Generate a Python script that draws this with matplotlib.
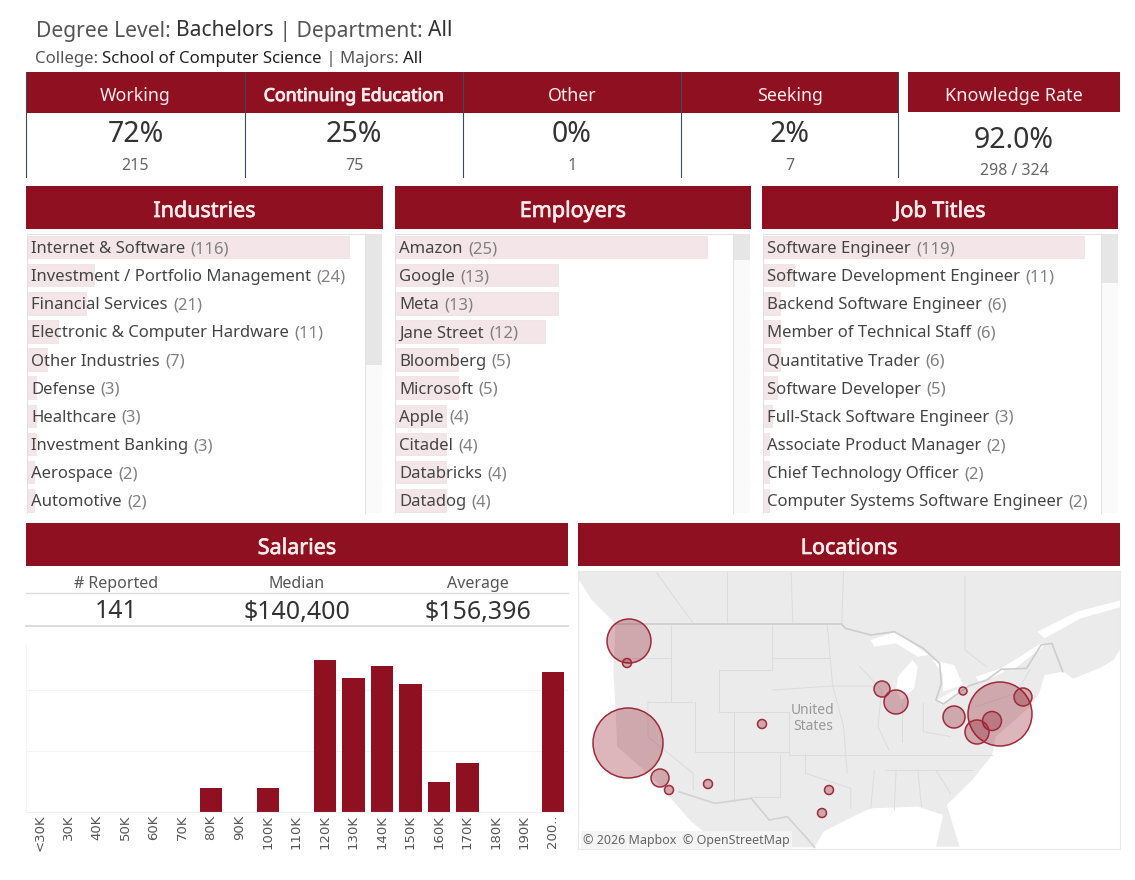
import numpy as np
from matplotlib import pyplot as plt
from matplotlib import patheffects as pe
from matplotlib.patches import Rectangle, Polygon

plt.rcParams['font.family'] = ['Noto Sans', 'DejaVu Sans']

RED = '#8f1020'
DARK = '#333333'
GREY = '#666666'
W, H = 1135, 880

kpi_names = ['Working', 'Continuing Education', 'Other', 'Seeking']
kpi_pct = ['72%', '25%', '0%', '2%']
kpi_count = ['215', '75', '1', '7']

industries = ['Internet & Software', 'Investment / Portfolio Management', 'Financial Services',
              'Electronic & Computer Hardware', 'Other Industries', 'Defense', 'Healthcare',
              'Investment Banking', 'Aerospace', 'Automotive']
industry_counts = [116, 24, 21, 11, 7, 3, 3, 3, 2, 2]

employers = ['Amazon', 'Google', 'Meta', 'Jane Street', 'Bloomberg', 'Microsoft', 'Apple',
             'Citadel', 'Databricks', 'Datadog']
employer_counts = [25, 13, 13, 12, 5, 5, 4, 4, 4, 4]

job_titles = ['Software Engineer', 'Software Development Engineer', 'Backend Software Engineer',
              'Member of Technical Staff', 'Quantitative Trader', 'Software Developer',
              'Full-Stack Software Engineer', 'Associate Product Manager',
              'Chief Technology Officer', 'Computer Systems Software Engineer']
job_counts = [119, 11, 6, 6, 6, 5, 3, 2, 2, 2]

salary_bins = ['<30K', '30K', '40K', '50K', '60K', '70K', '80K', '90K', '100K', '110K',
               '120K', '130K', '140K', '150K', '160K', '170K', '180K', '190K', '200..']
salary_counts = [0, 0, 0, 0, 0, 0, 4, 0, 4, 0, 25, 22, 24, 21, 5, 8, 0, 0, 23]

# bubbles in pixels
city_x = [628, 629, 627, 660, 669, 708, 762, 829, 822, 882, 896, 963, 954, 1000, 992, 977, 1023]
city_y = [743, 641, 663, 778, 790, 784, 724, 790, 813, 689, 702, 691, 717, 714, 721, 732, 697]
city_r = [35, 22, 4.5, 9, 4.5, 4.5, 4.5, 4.5, 4.5, 8, 12, 4, 11, 32, 9.5, 12, 9]

# map background, in zoom-crop coordinates (converted below)
land = [(22, 30), (1540, 30), (1540, 230), (1500, 300), (1400, 365), (1362, 335), (1310, 345),
        (1295, 400), (1270, 440), (1175, 530), (1165, 585), (1110, 660), (1040, 735), (1075, 860),
        (1010, 860), (1030, 765), (960, 740), (830, 745), (780, 770), (700, 815), (675, 862),
        (425, 862), (335, 785), (270, 705), (225, 650), (130, 560), (125, 430), (120, 340),
        (125, 190), (60, 120), (25, 60)]
lakes = [[(830, 240), (900, 215), (990, 285), (960, 290), (900, 250), (840, 260)],
         [(905, 350), (945, 300), (960, 320), (950, 385), (915, 420), (900, 390)],
         [(1000, 300), (1060, 315), (1085, 375), (1030, 395), (1028, 340)],
         [(1010, 420), (1090, 375), (1100, 385), (1025, 435)],
         [(1120, 350), (1190, 325), (1200, 335), (1130, 370)],
         [(1190, 325), (1300, 250), (1312, 255), (1220, 332)],
         [(1290, 215), (1400, 155), (1540, 115), (1540, 135), (1410, 175), (1310, 235)],
         [(1375, 362), (1460, 325), (1475, 335), (1400, 368)]]
border = [(125, 192), (750, 192), (760, 205), (830, 225), (895, 215), (975, 265), (1020, 310),
          (1025, 370), (1010, 420), (1030, 432), (1100, 378), (1150, 360), (1190, 328), (1260, 325),
          (1300, 255), (1330, 250), (1360, 335)]
south_border = [(300, 695), (400, 730), (500, 715), (550, 780), (600, 770), (650, 830), (675, 862)]
state_lines = [[(280, 195), (280, 425)], [(125, 295), (280, 295)], [(215, 425), (340, 425)],
               [(215, 425), (215, 530), (340, 640), (340, 690)], [(345, 425), (345, 575)],
               [(345, 575), (605, 575)], [(452, 455), (452, 725)], [(410, 330), (410, 455), (605, 455)],
               [(410, 330), (558, 330), (558, 195)], [(558, 295), (715, 295)], [(558, 390), (725, 378), (840, 378)],
               [(605, 455), (605, 585), (765, 585)], [(580, 585), (580, 712), (500, 712)],
               [(650, 585), (650, 640), (775, 685), (775, 745)], [(710, 195), (725, 378)],
               [(725, 378), (755, 500), (765, 640)], [(765, 585), (1165, 585)], [(800, 320), (860, 390), (850, 500), (880, 570)],
               [(915, 430), (915, 545)], [(975, 430), (975, 515), (1050, 530)], [(870, 630), (1110, 630)],
               [(900, 630), (895, 750)], [(960, 630), (970, 740)], [(1010, 630), (1050, 700)],
               [(840, 630), (830, 745)], [(1090, 50), (1090, 270), (1150, 320)], [(610, 30), (615, 190)], [(432, 30), (432, 190)],
               [(240, 40), (340, 190)], [(1120, 440), (1230, 400), (1270, 330)], [(755, 35), (750, 190)]]


def mx(pts):
    return [(570 + x / 2.76, 560 + y / 3) for x, y in pts]


def px_axes(fig, x0, y0, x1, y1, **kw):
    return fig.add_axes([x0 / W, 1 - y1 / H, (x1 - x0) / W, (y1 - y0) / H], **kw)


def spans(ax, x, y, parts, size):
    # text in two colours, one piece after the other
    r = fig.canvas.get_renderer()
    for s, c in parts:
        t = ax.text(x, y, s, color=c, fontsize=size, va='center', ha='left')
        x += t.get_window_extent(r).width


def faux_bold(t, c='#f7ecec', w=0.5):
    t.set_path_effects([pe.withStroke(linewidth=w, foreground=c)])


def header(ax, x0, x1, y0, y1, label, size=15.5, bold=True):
    ax.add_patch(Rectangle((x0, y0), x1 - x0, y1 - y0, color=RED, lw=0))
    t = ax.text((x0 + x1) / 2, (y0 + y1) / 2 + 4, label, color='#f7ecec', fontsize=size,
                ha='center', va='center')
    if bold:
        faux_bold(t)


def list_panel(x0, names, counts, max_px, thumb):
    # scrollbar on the right of a 354 px wide box
    bg.plot([x0, x0, x0 + 338], [513, 234, 234], color='#e2e2e2', lw=0.8)
    bg.plot([x0 + 338, x0 + 338], [234, 513], color='#e2e2e2', lw=0.8)
    bg.add_patch(Rectangle((x0 + 338, 234), 17, 279, fc='#fafafa', lw=0))
    bg.add_patch(Rectangle((x0 + 338, 234), 17, thumb, fc='#e6e6e6', lw=0))
    ax = px_axes(fig, x0 + 1, 234, x0 + 337, 513)
    ax.axis('off')
    pos = np.arange(len(names))
    ax.barh(pos, counts, height=0.8, color='#f4e6e8', edgecolor='#ecdfe1', lw=0.5)
    ax.set_xlim(0, max(counts) * 336 / max_px)
    ax.set_ylim(9.45, -0.46)
    for i, (n, c) in enumerate(zip(names, counts)):
        t = ax.annotate(n, (0, i), xytext=(2.5, -1.5), textcoords='offset points', fontsize=12, color='#444444',
                        va='center', ha='left')
        e = t.get_window_extent(fig.canvas.get_renderer())
        ax.annotate(f'({c})', (0, i), xytext=(2.5 + (e.width + 5) * 0.72, -1.5), textcoords='offset points',
                    fontsize=12, color='#808080', va='center', ha='left')


fig = plt.figure(figsize=(W / 100, H / 100), dpi=100)
bg = px_axes(fig, 0, 0, W, H)
bg.set_xlim(0, W)
bg.set_ylim(H, 0)
bg.axis('off')

spans(bg, 36, 31, [('Degree Level: ', '#555555'), ('Bachelors', DARK), (' | Department: ', '#555555'), ('All', DARK)], 15.2)
spans(bg, 35, 59, [('College: ', '#555555'), ('School of Computer Science', '#222222'), (' | Majors: ', '#555555'), ('All', '#222222')], 12.1)

# KPI strip
kpi_edges = [26, 245, 463, 681, 898]
bg.add_patch(Rectangle((26, 72), 872, 41, color=RED, lw=0))
for i, name in enumerate(kpi_names):
    cx = (kpi_edges[i] + kpi_edges[i + 1]) / 2
    t = bg.text(cx, 96, name, color='#f7ecec', fontsize=12.8, ha='center', va='center')
    if i == 1:
        faux_bold(t, w=0.7)
    bg.text(cx, 135, kpi_pct[i], color=DARK, fontsize=20.5, ha='center', va='center')
    bg.text(cx, 166, kpi_count[i], color=GREY, fontsize=11.5, ha='center', va='center')
for x in kpi_edges:
    bg.plot([x, x], [72, 177], color='#3d4a5c', lw=0.8)
header(bg, 908, 1120, 72, 112, 'Knowledge Rate', size=13, bold=False)
bg.text(1014, 140, '92.0%', color=DARK, fontsize=20.5, ha='center', va='center')
bg.text(1014, 171, '298 / 324', color=GREY, fontsize=11.5, ha='center', va='center')

header(bg, 26, 383, 186, 229, 'Industries')
header(bg, 395, 751, 186, 229, 'Employers')
header(bg, 762, 1118, 186, 229, 'Job Titles')
list_panel(27, industries, industry_counts, 321, 131)
list_panel(395, employers, employer_counts, 311, 26)
list_panel(763, job_titles, job_counts, 320, 49)

# salaries
header(bg, 26, 568, 523, 566, 'Salaries')
header(bg, 578, 1120, 523, 566, 'Locations')
for x, a, b in zip([116, 297, 478], ['# Reported', 'Median', 'Average'], ['141', '$140,400', '$156,396']):
    bg.text(x, 584, a, color='#555555', fontsize=11.5, ha='center', va='center')
    bg.text(x, 612, b, color=DARK, fontsize=18, ha='center', va='center')
bg.plot([26, 568], [593, 593], color='#dddddd', lw=1)
bg.plot([26, 568], [626, 626], color='#dddddd', lw=1.4)

ax = px_axes(fig, 26, 645, 568, 812)
ax.bar(np.arange(len(salary_bins)), salary_counts, width=0.78, color=RED)
ax.set_xlim(-0.49, 18.53)
ax.set_ylim(0, 27.4)
ax.set_yticks([0, 10, 20])
ax.set_yticklabels([])
ax.grid(axis='y', color='#f3f3f3', lw=0.8)
ax.set_axisbelow(True)
ax.set_xticks(np.arange(len(salary_bins)))
ax.set_xticklabels(salary_bins, rotation=90, fontsize=9.5, color='#555555', family=['DejaVu Sans'])
ax.tick_params(length=0, pad=2)
for s in ['top', 'right']:
    ax.spines[s].set_visible(False)
ax.spines['left'].set_color('#f5f5f5')
ax.spines['bottom'].set_color('#f0f0f0')

# map
m = px_axes(fig, 578, 571, 1120, 849)
m.set_xlim(578, 1120)
m.set_ylim(849, 571)
m.set_facecolor('white')
m.add_patch(Polygon(mx(land), fc='#ebebeb', ec='none'))
for lake in lakes:
    m.add_patch(Polygon(mx(lake), fc='white', ec='none'))
for line in state_lines:
    xs, ys = zip(*mx(line))
    m.plot(xs, ys, color='#dcdcdc', lw=0.7)
for line, c in [(border, '#cdcdcd'), (south_border, '#d2d2d2')]:
    xs, ys = zip(*mx(line))
    m.plot(xs, ys, color=c, lw=1.2)
m.text(813, 711, 'United', color='#999999', fontsize=10, ha='center', va='center')
m.text(813, 727, 'States', color='#999999', fontsize=10, ha='center', va='center')
sizes = (2 * np.array(city_r) * 0.72) ** 2
m.scatter(city_x, city_y, s=sizes, facecolor=(0.56, 0.06, 0.13, 0.3), edgecolor='#a12a3a', lw=1.1, zorder=3)
m.text(583, 840, '\u00a9 2026 Mapbox  \u00a9 OpenStreetMap', color='#666666', fontsize=9, va='center', ha='left',
       bbox=dict(fc='#f4f4f4', ec='none', pad=1.5), zorder=4)
m.set_xticks([])
m.set_yticks([])
for s in m.spines.values():
    s.set_color('#e8e8e8')

fig.savefig('out.png', dpi=100)
